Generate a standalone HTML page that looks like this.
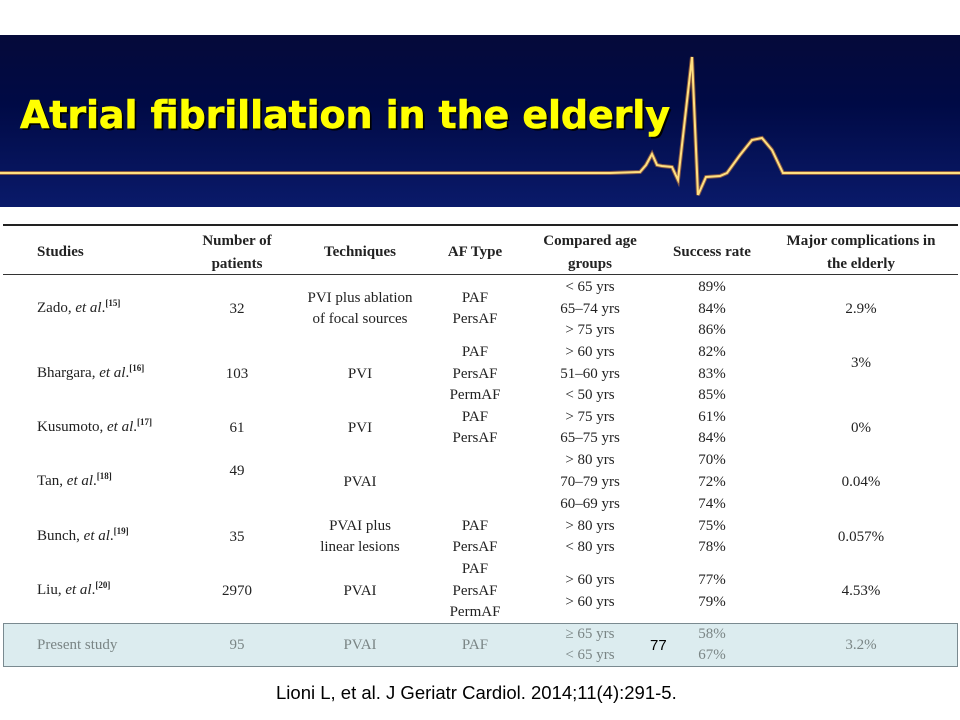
<!DOCTYPE html>
<html><head><meta charset="utf-8"><style>
body{margin:0;width:960px;height:720px;background:#fff;position:relative;overflow:hidden;font-family:"Liberation Serif",serif;}
.c{position:absolute;width:240px;margin-left:-120px;text-align:center;font-size:15px;line-height:20px;color:#222;white-space:nowrap}
.l{position:absolute;font-size:15px;line-height:20px;color:#222;white-space:nowrap}
.b{font-weight:bold}
.g{color:#7a8585}
sup{font-size:9px;font-weight:bold;vertical-align:6px;line-height:0}
</style></head><body>
<div style="position:absolute;left:0;top:35px;width:960px;height:172px;background:linear-gradient(180deg,#050a3a 0%,#000a45 40%,#0a1a6a 100%)"></div>
<svg style="position:absolute;left:0;top:0" width="960" height="220">
<polyline points="0,173 610,173 640,172 646,165 652,154 657,165 662,166 672,167 678,180 692,57 698,195 706,177 720,176 727,173 740,155 752,140 762,138 772,150 783,173 960,173" fill="none" stroke="#ff9a30" stroke-width="4" opacity="0.5"/>
<polyline points="0,173 610,173 640,172 646,165 652,154 657,165 662,166 672,167 678,180 692,57 698,195 706,177 720,176 727,173 740,155 752,140 762,138 772,150 783,173 960,173" fill="none" stroke="#ffe080" stroke-width="2"/>
<text x="22" y="130" font-family="'DejaVu Sans',sans-serif" font-weight="bold" font-size="38" fill="#000" textLength="650">Atrial fibrillation in the elderly</text>
<text x="20" y="128" font-family="'DejaVu Sans',sans-serif" font-weight="bold" font-size="38" fill="#ffff00" stroke="#ffff00" stroke-width="0.6" textLength="650">Atrial fibrillation in the elderly</text>
</svg>
<div style="position:absolute;left:3px;top:224px;width:955px;height:2px;background:#222"></div>
<div style="position:absolute;left:3px;top:274px;width:955px;height:1px;background:#333"></div>
<div style="position:absolute;left:3px;top:623px;width:953px;height:42px;background:#dcecef;border:1.5px solid #7a8a90"></div>

<div class="l b" style="left:37px;top:242px">Studies</div>
<div class="c b" style="left:237px;top:231px">Number of</div>
<div class="c b" style="left:237px;top:254px">patients</div>
<div class="c b" style="left:360px;top:242px">Techniques</div>
<div class="c b" style="left:475px;top:242px">AF Type</div>
<div class="c b" style="left:590px;top:231px">Compared age</div>
<div class="c b" style="left:590px;top:254px">groups</div>
<div class="c b" style="left:712px;top:242px">Success rate</div>
<div class="c b" style="left:861px;top:231px">Major complications in</div>
<div class="c b" style="left:861px;top:254px">the elderly</div>

<div class="l" style="left:37px;top:298px">Zado, <i>et al</i>.<sup>[15]</sup></div>
<div class="c" style="left:237px;top:299px">32</div>
<div class="c" style="left:360px;top:288px">PVI plus ablation</div>
<div class="c" style="left:360px;top:309px">of focal sources</div>
<div class="c" style="left:475px;top:288px">PAF</div>
<div class="c" style="left:475px;top:309px">PersAF</div>
<div class="c" style="left:590px;top:277px">&lt; 65 yrs</div>
<div class="c" style="left:590px;top:299px">65–74 yrs</div>
<div class="c" style="left:590px;top:320px">&gt; 75 yrs</div>
<div class="c" style="left:712px;top:277px">89%</div>
<div class="c" style="left:712px;top:299px">84%</div>
<div class="c" style="left:712px;top:320px">86%</div>
<div class="c" style="left:861px;top:299px">2.9%</div>

<div class="l" style="left:37px;top:363px">Bhargara, <i>et al</i>.<sup>[16]</sup></div>
<div class="c" style="left:237px;top:364px">103</div>
<div class="c" style="left:360px;top:364px">PVI</div>
<div class="c" style="left:475px;top:342px">PAF</div>
<div class="c" style="left:475px;top:364px">PersAF</div>
<div class="c" style="left:475px;top:385px">PermAF</div>
<div class="c" style="left:590px;top:342px">&gt; 60 yrs</div>
<div class="c" style="left:590px;top:364px">51–60 yrs</div>
<div class="c" style="left:590px;top:385px">&lt; 50 yrs</div>
<div class="c" style="left:712px;top:342px">82%</div>
<div class="c" style="left:712px;top:364px">83%</div>
<div class="c" style="left:712px;top:385px">85%</div>
<div class="c" style="left:861px;top:353px">3%</div>

<div class="l" style="left:37px;top:417px">Kusumoto, <i>et al</i>.<sup>[17]</sup></div>
<div class="c" style="left:237px;top:418px">61</div>
<div class="c" style="left:360px;top:418px">PVI</div>
<div class="c" style="left:475px;top:407px">PAF</div>
<div class="c" style="left:475px;top:428px">PersAF</div>
<div class="c" style="left:590px;top:407px">&gt; 75 yrs</div>
<div class="c" style="left:590px;top:428px">65–75 yrs</div>
<div class="c" style="left:712px;top:407px">61%</div>
<div class="c" style="left:712px;top:428px">84%</div>
<div class="c" style="left:861px;top:418px">0%</div>

<div class="l" style="left:37px;top:471px">Tan, <i>et al</i>.<sup>[18]</sup></div>
<div class="c" style="left:237px;top:461px">49</div>
<div class="c" style="left:360px;top:472px">PVAI</div>
<div class="c" style="left:590px;top:450px">&gt; 80 yrs</div>
<div class="c" style="left:590px;top:472px">70–79 yrs</div>
<div class="c" style="left:590px;top:494px">60–69 yrs</div>
<div class="c" style="left:712px;top:450px">70%</div>
<div class="c" style="left:712px;top:472px">72%</div>
<div class="c" style="left:712px;top:494px">74%</div>
<div class="c" style="left:861px;top:472px">0.04%</div>

<div class="l" style="left:37px;top:526px">Bunch, <i>et al</i>.<sup>[19]</sup></div>
<div class="c" style="left:237px;top:527px">35</div>
<div class="c" style="left:360px;top:516px">PVAI plus</div>
<div class="c" style="left:360px;top:537px">linear lesions</div>
<div class="c" style="left:475px;top:516px">PAF</div>
<div class="c" style="left:475px;top:537px">PersAF</div>
<div class="c" style="left:590px;top:516px">&gt; 80 yrs</div>
<div class="c" style="left:590px;top:537px">&lt; 80 yrs</div>
<div class="c" style="left:712px;top:516px">75%</div>
<div class="c" style="left:712px;top:537px">78%</div>
<div class="c" style="left:861px;top:527px">0.057%</div>

<div class="l" style="left:37px;top:580px">Liu, <i>et al</i>.<sup>[20]</sup></div>
<div class="c" style="left:237px;top:581px">2970</div>
<div class="c" style="left:360px;top:581px">PVAI</div>
<div class="c" style="left:475px;top:559px">PAF</div>
<div class="c" style="left:475px;top:581px">PersAF</div>
<div class="c" style="left:475px;top:602px">PermAF</div>
<div class="c" style="left:590px;top:570px">&gt; 60 yrs</div>
<div class="c" style="left:590px;top:592px">&gt; 60 yrs</div>
<div class="c" style="left:712px;top:570px">77%</div>
<div class="c" style="left:712px;top:592px">79%</div>
<div class="c" style="left:861px;top:581px">4.53%</div>

<div class="l g" style="left:37px;top:635px">Present study</div>
<div class="c g" style="left:237px;top:635px">95</div>
<div class="c g" style="left:360px;top:635px">PVAI</div>
<div class="c g" style="left:475px;top:635px">PAF</div>
<div class="c g" style="left:590px;top:624px">≥ 65 yrs</div>
<div class="c g" style="left:590px;top:645px">&lt; 65 yrs</div>
<div class="c g" style="left:712px;top:624px">58%</div>
<div class="c g" style="left:712px;top:645px">67%</div>
<div class="c g" style="left:861px;top:635px">3.2%</div>
<div class="l" style="left:650px;top:636px;font-family:'Liberation Sans',sans-serif;font-size:15px;color:#000">77</div>

<div class="l" style="left:276px;top:682px;font-family:'Liberation Sans',sans-serif;font-size:18.5px;line-height:22px;color:#000">Lioni L, et al. J Geriatr Cardiol. 2014;11(4):291-5.</div>
</body></html>
